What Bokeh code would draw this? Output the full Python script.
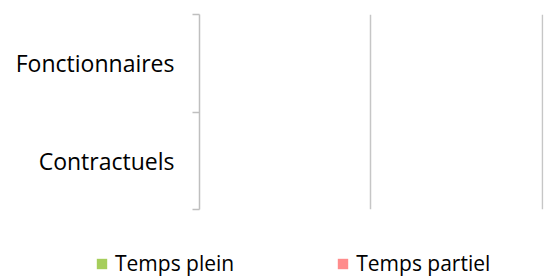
from bokeh.plotting import figure
from bokeh.layouts import column
from bokeh.models import (Range1d, FixedTicker, Grid, Legend, LegendItem)
from bokeh.embed import file_html
from bokeh.resources import INLINE

# Data
categories = ["Fonctionnaires", "Contractuels"]
temps_plein = [0, 0]
temps_partiel = [0, 0]
series_names = ["Temps plein", "Temps partiel"]
series_colors = ["#A6CE5B", "#FF8C8C"]
x_ticks = [1, 2]

FONT = "Open Sans"

n = len(categories)
ypos = [n - 0.5 - i for i in range(n)]

p = figure(width=548, height=211, output_backend="svg", toolbar_location=None,
           x_range=Range1d(0, 2.006), y_range=Range1d(0, n),
           x_axis_location=None, y_axis_location="left",
           min_border_left=199, min_border_right=5, min_border_top=14,
           min_border_bottom=2)
p.frame_align = False
p.outline_line_color = None
p.background_fill_color = "white"
p.border_fill_color = "white"
p.ygrid.visible = False
p.xgrid.visible = False

grid = Grid(dimension=0, ticker=FixedTicker(ticks=x_ticks),
            grid_line_color="#C6C6C6", grid_line_width=1.5)
p.add_layout(grid)

ax = p.yaxis[0]
ax.ticker = FixedTicker(ticks=ypos, minor_ticks=[0, 1, 2])
ax.major_label_overrides = {y: c for y, c in zip(ypos, categories)}
ax.major_tick_line_color = None
ax.major_tick_out = 0
ax.major_tick_in = 0
ax.minor_tick_line_color = "#BFBFBF"
ax.minor_tick_line_width = 1.5
ax.minor_tick_out = 7
ax.minor_tick_in = 0
ax.axis_line_color = "#BFBFBF"
ax.axis_line_width = 1.5
ax.major_label_standoff = 18
ax.major_label_text_font = FONT
ax.major_label_text_font_size = "23px"
ax.major_label_text_color = "#000000"

r1 = p.hbar(y=[y + 0.15 for y in ypos], left=0, right=temps_plein, height=0.3,
            fill_color=series_colors[0], line_color=None)
r2 = p.hbar(y=[y - 0.15 for y in ypos], left=0, right=temps_partiel, height=0.3,
            fill_color=series_colors[1], line_color=None)

# Legend strip below the chart
q = figure(width=548, height=66, output_backend="svg", toolbar_location=None,
           x_range=Range1d(0, 2), y_range=Range1d(0, n),
           x_axis_location=None, y_axis_location=None,
           min_border_left=0, min_border_right=0, min_border_top=0,
           min_border_bottom=0)
q.frame_align = False
q.outline_line_color = None
q.xgrid.visible = False
q.ygrid.visible = False
q1 = q.hbar(y=[y + 0.15 for y in ypos], left=0, right=temps_plein, height=0.3,
            fill_color=series_colors[0], line_color=None)
q2 = q.hbar(y=[y - 0.15 for y in ypos], left=0, right=temps_partiel, height=0.3,
            fill_color=series_colors[1], line_color=None)

legend = Legend(items=[LegendItem(label=series_names[0], renderers=[q1]),
                       LegendItem(label=series_names[1], renderers=[q2])],
                orientation="horizontal", location=(95, 0),
                glyph_width=13, glyph_height=13, label_standoff=7, spacing=102,
                padding=0, margin=0, border_line_color=None,
                background_fill_alpha=0,
                label_text_font=FONT, label_text_font_size="21px",
                label_text_color="#000000")
q.add_layout(legend, "center")

layout = column(p, q, spacing=0)
open("out.html", "w").write(file_html(layout, INLINE))
